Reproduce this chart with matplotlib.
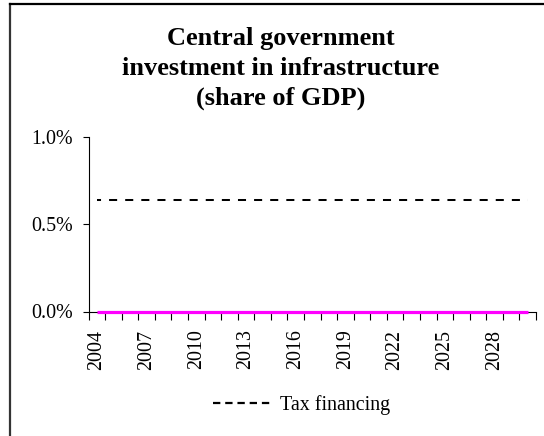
import matplotlib
matplotlib.use("Agg")
import matplotlib.pyplot as plt
from matplotlib.lines import Line2D
from matplotlib.ticker import FixedLocator, FuncFormatter

# ---- data ----
years = [2004, 2005, 2006, 2007, 2008, 2009, 2010, 2011, 2012, 2013, 2014, 2015, 2016, 2017,
         2018, 2019, 2020, 2021, 2022, 2023, 2024, 2025, 2026, 2027, 2028, 2029, 2030]
tax_financing = [0.64, 0.64, 0.64, 0.64, 0.64, 0.64, 0.64, 0.64, 0.64, 0.64, 0.64, 0.64, 0.64, 0.64,
                 0.64, 0.64, 0.64, 0.64, 0.64, 0.64, 0.64, 0.64, 0.64, 0.64, 0.64, 0.64, 0.64]
other_financing = [0.0, 0.0, 0.0, 0.0, 0.0, 0.0, 0.0, 0.0, 0.0, 0.0, 0.0, 0.0, 0.0, 0.0,
                   0.0, 0.0, 0.0, 0.0, 0.0, 0.0, 0.0, 0.0, 0.0, 0.0, 0.0, 0.0, 0.0]
y_ticks = [0.0, 0.5, 1.0]
title_lines = ["Central government", "investment in infrastructure", "(share of GDP)"]
legend_label = "Tax financing"

plt.rcParams['font.family'] = ['Liberation Serif', 'DejaVu Serif']

W, H = 544, 436
fig = plt.figure(figsize=(W / 100, H / 100), dpi=100)
ax = fig.add_axes([88.5 / W, 1 - 311.5 / H, (536 - 88.5) / W, (311.5 - 137) / H])

xpos = list(range(len(years)))
ax.plot(xpos, tax_financing, color='black', lw=1.45, ls=(2, (4, 4)), zorder=3)
ax.plot(xpos, other_financing, color='#FF00FF', lw=2.3, zorder=4, clip_on=False,
        solid_capstyle='butt')

ax.set_xlim(-0.5, len(years) - 0.5)
ax.set_ylim(0, 1.0)

for s in ['top', 'right']:
    ax.spines[s].set_visible(False)
for s in ['left', 'bottom']:
    ax.spines[s].set_linewidth(0.8)
    ax.spines[s].set_color('black')

# y axis
ax.yaxis.set_major_locator(FixedLocator(y_ticks))
ax.yaxis.set_major_formatter(FuncFormatter(lambda v, p: f"{v:.1f}%"))
ax.tick_params(axis='y', direction='out', length=4, width=0.8, pad=7.5, labelsize=14.4)

# x axis: labels at category centres every 3 years, ticks at boundaries
lab_pos = [i for i, y in enumerate(years) if (y - years[0]) % 3 == 0]
ax.set_xticks(lab_pos)
ax.set_xticklabels([str(years[i]) for i in lab_pos], rotation=90, fontsize=14.4)
ax.set_xticks([i - 0.5 for i in range(len(years) + 1)], minor=True)
ax.tick_params(axis='x', which='major', length=0, pad=13)
ax.tick_params(axis='x', which='minor', direction='out', length=6, width=0.8)

# title
for k, line in enumerate(title_lines):
    fig.text(281 / W, 1 - (45 + 30 * k) / H, line, ha='center', va='baseline',
             fontsize=19, fontweight='bold')

# legend
handle = Line2D([], [], color='black', lw=1.6, ls=(0, (3.3, 2.2)))
fig.legend([handle], [legend_label], loc='center', bbox_to_anchor=(302 / W, 1 - 405 / H),
           bbox_transform=fig.transFigure, frameon=False, fontsize=14.4,
           handlelength=3.0, handletextpad=0.35, borderpad=0, borderaxespad=0)

# chart frame (left and top edges visible)
fig.add_artist(Line2D([9.5 / W, 9.5 / W], [0, 1 - 4 / H], transform=fig.transFigure,
                      color='#333333', lw=1.6))
fig.add_artist(Line2D([9.5 / W, 1.0], [1 - 4 / H, 1 - 4 / H], transform=fig.transFigure,
                      color='black', lw=1.6))

fig.savefig('out.png', dpi=100)
